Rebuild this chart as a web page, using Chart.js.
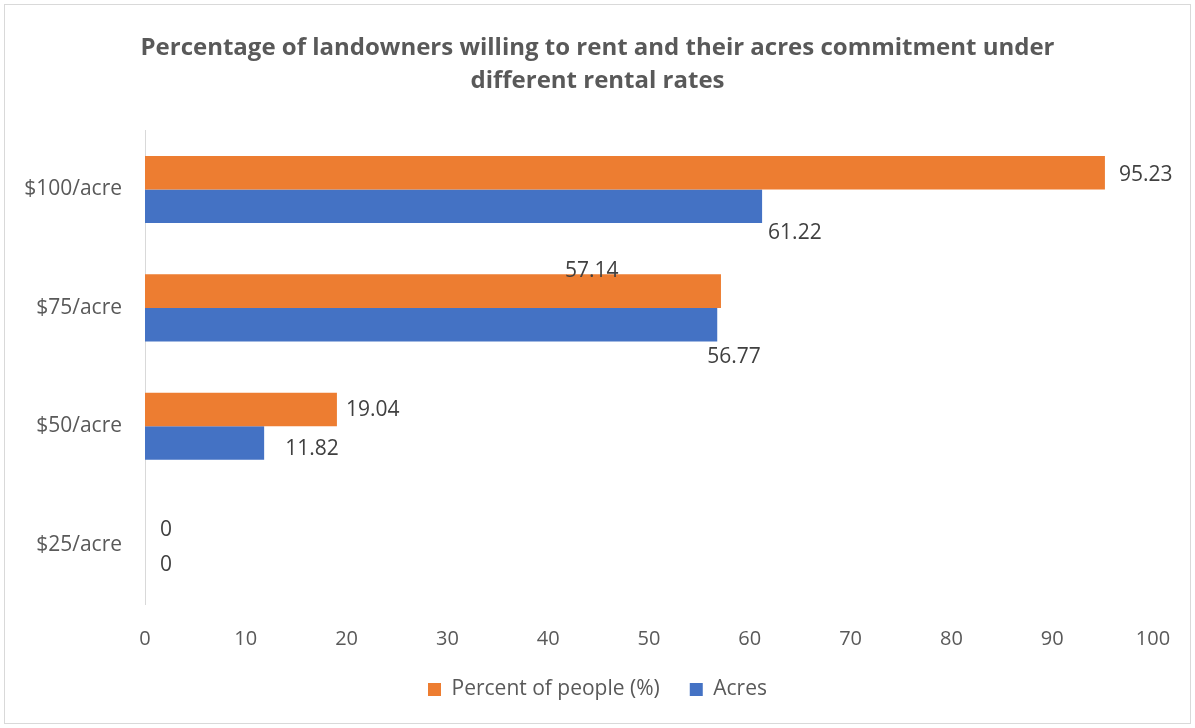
<!DOCTYPE html>
<html>
<head>
<meta charset="utf-8">
<title>Landowners willing to rent</title>
<script src="https://cdn.jsdelivr.net/npm/chart.js@4.4.0/dist/chart.umd.min.js"></script>
<style>
  html, body { margin: 0; padding: 0; background: #fff; }
  #rentChart { display: block; }
</style>
</head>
<body>
<canvas id="rentChart" width="1195" height="728"></canvas>
<script>
const rates = ['$100/acre', '$75/acre', '$50/acre', '$25/acre'];
const percentPeople = [95.23, 57.14, 19.04, 0];
const acres = [61.22, 56.77, 11.82, 0];
const xTicks = [0, 10, 20, 30, 40, 50, 60, 70, 80, 90, 100];

// where each value label sits, relative to the end of its bar
const percentLabelShift = [[14, 2], [-156, -20], [9, 0], [15, 2]];
const acresLabelShift = [[6, 27], [-10, 32], [21, 6], [15, 3]];

const FONT = "'Open Sans', 'Noto Sans', sans-serif";

const frame = {
    id: 'frame',
    beforeDraw(chart) {
        const c = chart.ctx;
        c.save();
        c.fillStyle = '#ffffff';
        c.fillRect(0, 0, chart.width, chart.height);
        c.strokeStyle = '#d9d9d9';
        c.lineWidth = 1;
        c.strokeRect(4.5, 4.5, chart.width - 9, chart.height - 9);
        c.restore();
    }
};

const valueLabels = {
    id: 'valueLabels',
    afterDatasetsDraw(chart) {
        const c = chart.ctx;
        const shifts = [percentLabelShift, acresLabelShift];
        c.save();
        c.font = '21px ' + FONT;
        c.fillStyle = '#404040';
        c.textAlign = 'left';
        c.textBaseline = 'middle';
        chart.data.datasets.forEach(function (ds, di) {
            const meta = chart.getDatasetMeta(di);
            meta.data.forEach(function (bar, i) {
                const s = shifts[di][i];
                c.fillText(String(ds.data[i]), bar.x + s[0], bar.y + s[1]);
            });
        });
        c.restore();
    }
};

const ctx = document.getElementById('rentChart').getContext('2d');
new Chart(ctx, {
    type: 'bar',
    data: {
        labels: rates,
        datasets: [
            {
                label: 'Percent of people (%)',
                data: percentPeople,
                backgroundColor: '#ED7D31',
                borderWidth: 0
            },
            {
                label: 'Acres',
                data: acres,
                backgroundColor: '#4472C4',
                borderWidth: 0
            }
        ]
    },
    options: {
        indexAxis: 'y',
        responsive: false,
        animation: false,
        devicePixelRatio: 1,
        categoryPercentage: 0.566,
        barPercentage: 1.0,
        layout: { padding: { left: 0, right: 0, top: 0, bottom: 18 } },
        scales: {
            x: {
                min: 0,
                max: 100,
                afterBuildTicks(scale) {
                    scale.ticks = xTicks.map(v => ({ value: v }));
                },
                afterFit(scale) { scale.height = 45; },
                grid: { display: false, drawTicks: false },
                border: { display: false },
                ticks: {
                    padding: 23,
                    color: '#595959',
                    font: { family: FONT, size: 20 }
                }
            },
            y: {
                afterFit(scale) { scale.width = 145; },
                grid: { display: false, drawTicks: false },
                border: { display: true, color: '#d9d9d9', width: 1 },
                ticks: {
                    padding: 23,
                    color: '#595959',
                    font: { family: FONT, size: 21 }
                }
            },
            // empty right-hand margin so the title and legend stay centred on the page
            margin: {
                axis: 'y',
                position: 'right',
                afterFit(scale) { scale.width = 42; },
                grid: { display: false, drawTicks: false },
                border: { display: false },
                ticks: { display: false }
            }
        },
        plugins: {
            title: {
                display: true,
                text: ['Percentage of landowners willing to rent and their acres commitment under',
                       'different rental rates'],
                color: '#595959',
                font: { family: FONT, size: 24, weight: 'bold', lineHeight: 1.4 },
                padding: { top: 31, bottom: 32 }
            },
            legend: {
                position: 'bottom',
                labels: {
                    color: '#595959',
                    font: { family: FONT, size: 21 },
                    boxWidth: 13,
                    boxHeight: 13,
                    padding: 30
                }
            },
            tooltip: { enabled: false }
        }
    },
    plugins: [frame, valueLabels]
});
</script>
</body>
</html>
